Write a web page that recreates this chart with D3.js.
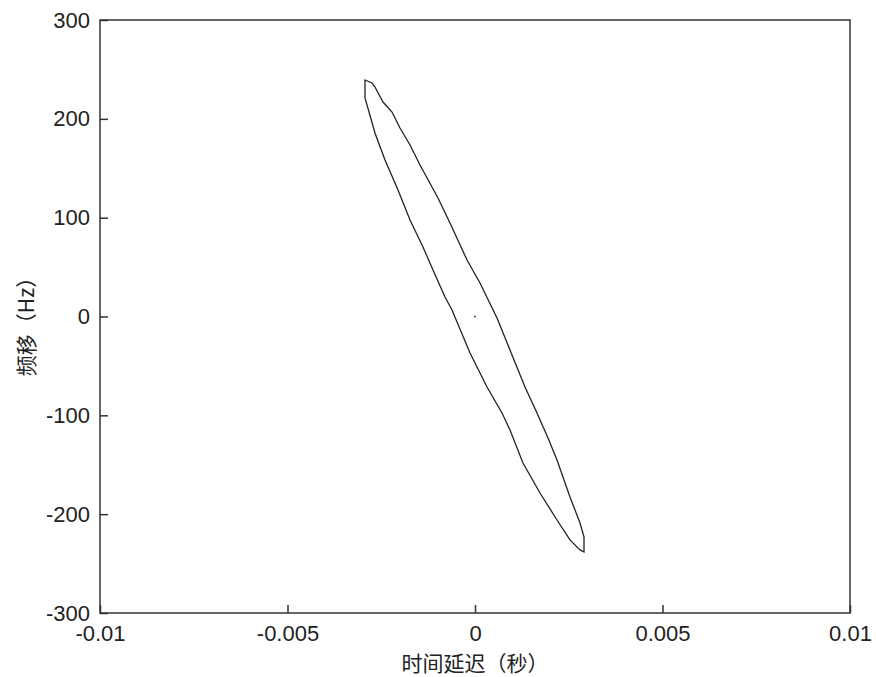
<!DOCTYPE html>
<html>
<head>
<meta charset="utf-8">
<script src="https://cdn.jsdelivr.net/npm/d3@7"></script>
<style>
  body { margin: 0; background: #fff; }
  .tick text { font-family: "Liberation Sans", Arial, sans-serif; font-size: 22px; fill: #222; }
  .label { font-family: "Noto Sans CJK SC", sans-serif; font-size: 21px; fill: #222; }
</style>
</head>
<body>
<svg id="chart"></svg>
<script>
//////////////// Konstanten ////////////////////
const margin = {top: 20, right: 26, bottom: 64, left: 100},
  width = 876 - margin.left - margin.right,
  height = 677 - margin.top - margin.bottom,
  tickLen = 8;

// Kontur der Mehrdeutigkeitsfunktion: Zeitverzoegerung (s) und Frequenzverschiebung (Hz)
const tau = [
  -0.002933, -0.002747, -0.002667, -0.002453, -0.002213, -0.002000, -0.001733, -0.001467,
  -0.000987, -0.000667, -0.000213, 0.000133, 0.000587, 0.000933, 0.001333, 0.001653,
  0.001947, 0.002187, 0.002533, 0.002800, 0.002907, 0.002907,
  0.002800, 0.002533, 0.002187, 0.001733, 0.001280, 0.000933, 0.000720, 0.000320,
  -0.000133, -0.000613, -0.000800, -0.001120, -0.001387, -0.001733, -0.002053, -0.002400,
  -0.002667, -0.002933
];
const fd = [
  239.3, 236.3, 232.2, 217.0, 206.9, 190.7, 173.5, 153.3,
  119.9, 94.6, 57.2, 33.9, -1.5, -33.9, -71.3, -97.6,
  -122.9, -145.2, -182.6, -208.9, -223.1, -238.3,
  -236.2, -226.1, -205.9, -178.6, -148.2, -114.8, -97.6, -71.3,
  -36.9, 6.6, 19.7, 47.1, 70.3, 97.6, 128.0, 158.3,
  185.7, 221.1
];
// kleiner Punkt in der Mitte
const centerDot = [[0, 0]];

const xTicks = [-0.01, -0.005, 0, 0.005, 0.01];
const xTickLabels = ["-0.01", "-0.005", "0", "0.005", "0.01"];
const yTicks = [-300, -200, -100, 0, 100, 200, 300];
const yTickLabels = ["-300", "-200", "-100", "0", "100", "200", "300"];
const xLabel = "时间延迟（秒）";
const yLabel = "频移（Hz）";

////////////////// SVG ////////////
const svg = d3.select("#chart")
  .attr("width", width + margin.left + margin.right)
  .attr("height", height + margin.top + margin.bottom)
  .append("g")
    .attr("transform", "translate(" + margin.left + "," + margin.top + ")");

////////////////// Scaling ////////////
const xScale = d3.scaleLinear().domain([-0.01, 0.01]).range([0, width]);
const yScale = d3.scaleLinear().domain([-300, 300]).range([height, 0]);

////////////////// Achsen ////////////
// Bindestrich statt Minuszeichen, wie im Original
const xAxis = d3.axisBottom(xScale)
  .tickValues(xTicks)
  .tickFormat(function(d, i) { return xTickLabels[i]; })
  .tickSizeInner(-tickLen)
  .tickSizeOuter(0)
  .tickPadding(10);
const yAxis = d3.axisLeft(yScale)
  .tickValues(yTicks)
  .tickFormat(function(d, i) { return yTickLabels[i]; })
  .tickSizeInner(-tickLen)
  .tickSizeOuter(0)
  .tickPadding(10);

const gx = svg.append("g").attr("transform", "translate(0," + height + ")").call(xAxis);
const gy = svg.append("g").call(yAxis);
gx.select(".domain").remove();
gy.select(".domain").remove();
svg.selectAll(".tick line").attr("stroke", "#333").attr("stroke-width", 1.5);
gx.selectAll(".tick text").attr("dy", "0.8em");

// Rahmen
svg.append("rect")
  .attr("x", 0).attr("y", 0)
  .attr("width", width).attr("height", height)
  .attr("fill", "none")
  .attr("stroke", "#333")
  .attr("stroke-width", 1.5);

//////////////// Kontur ///////////////
const pts = tau.map(function(t, i) { return [t, fd[i]]; });
const line = d3.line()
  .x(function(d) { return xScale(d[0]); })
  .y(function(d) { return yScale(d[1]); });

svg.append("path")
  .attr("d", line(pts) + "Z")
  .attr("fill", "none")
  .attr("stroke", "#222")
  .attr("stroke-width", 1.3);

svg.selectAll("circle.dot")
  .data(centerDot)
  .enter()
  .append("circle")
  .attr("class", "dot")
  .attr("cx", function(d) { return xScale(d[0]); })
  .attr("cy", function(d) { return yScale(d[1]); })
  .attr("r", 0.9)
  .attr("fill", "#333");

//////////////// Beschriftung ///////////////
svg.append("text")
  .attr("class", "label")
  .attr("x", width / 2)
  .attr("y", height + 58)
  .attr("text-anchor", "middle")
  .text(xLabel);

svg.append("text")
  .attr("class", "label")
  .attr("transform", "translate(" + (-75) + "," + (height / 2 + 5) + ") rotate(-90)")
  .attr("text-anchor", "middle")
  .attr("dominant-baseline", "central")
  .text(yLabel);
</script>
</body>
</html>
